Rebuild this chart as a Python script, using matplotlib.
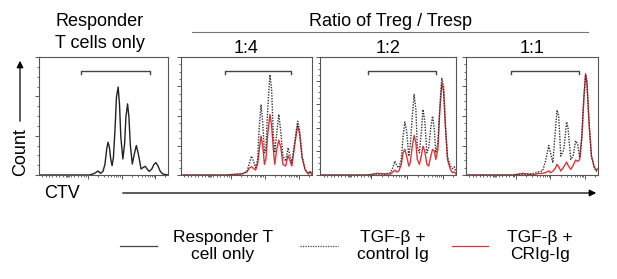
import numpy as np
import matplotlib
matplotlib.use("Agg")
import matplotlib.pyplot as plt

plt.rcParams['font.family'] = ['Liberation Sans', 'DejaVu Sans']

# CTV position (decades, 0 = 10^3) and count (% of axis)
resp_x = [-1.45, 0.05, 0.20, 0.30, 0.38, 0.45, 0.51, 0.56, 0.60, 0.64, 0.68, 0.72, 0.76, 0.81, 0.85,
          0.90, 0.94, 0.98, 1.04, 1.09, 1.13, 1.18, 1.22, 1.26, 1.32, 1.38, 1.44, 1.50, 1.58, 1.65,
          1.70, 1.76, 1.82, 1.90, 1.96, 2.02, 2.08, 2.15, 2.23, 2.38]
resp_y = [0, 0, 1.4, 3.4, 1.4, 3.1, 9.3, 22, 27.8, 23.5, 13.6, 7.9, 15, 40.5, 66,
          74.5, 60, 32, 13.6, 26, 49, 60.3, 49, 26, 9.3, 17.8, 25, 17.8, 5.1, 6.5,
          7.4, 5.1, 3.1, 5.1, 8.8, 10.5, 7.9, 3.1, 0.8, 0]

# 1:4
r14_x = [-1.45, -0.15, 0.33, 0.48, 0.54, 0.61, 0.67, 0.73, 0.79, 0.84, 0.89, 0.94, 0.99, 1.03, 1.09,
         1.15, 1.20, 1.25, 1.29, 1.35, 1.41, 1.47, 1.53, 1.61, 1.68, 1.74, 1.79, 1.87, 1.96, 2.02,
         2.09, 2.18, 2.27, 2.33, 2.38]
r14_ctrl = [0, 0, 0.6, 3.4, 9, 16, 11.8, 6.2, 13.2, 41.4, 59.7, 44, 18.9, 21.7, 58.3,
            85, 72.4, 33, 18.9, 35.8, 51.3, 35.8, 16, 11.8, 23.1, 16, 10.4, 27.3, 45.6, 37.2,
            16, 4.8, 1.4, 3.4, 0.6]
r14_crig = [0, 0, 1.1, 2.5, 5.6, 7, 5.6, 4.2, 9, 21.7, 33, 24.5, 9, 13.2, 35.8,
            51.3, 41.4, 21.7, 9, 21.7, 29.6, 23.1, 9, 7.6, 16.6, 11.8, 7.6, 24.5, 42, 34.4,
            14.6, 4.2, 0.8, 2.5, 0]

# 1:2
r12_x = [-1.45, -0.10, 0.16, 0.38, 0.54, 0.60, 0.66, 0.71, 0.77, 0.84, 0.89, 0.94, 0.99, 1.05, 1.09,
         1.15, 1.20, 1.25, 1.29, 1.35, 1.41, 1.45, 1.50, 1.56, 1.61, 1.67, 1.72, 1.77, 1.81, 1.87,
         1.92, 1.98, 2.03, 2.08, 2.14, 2.22, 2.28, 2.33, 2.38]
r12_ctrl = [0, 0, 0.8, 0.8, 2, 6.2, 11.8, 7.6, 6.2, 13.2, 33, 44.8, 37.2, 16, 24.5,
            49.9, 68.2, 55.5, 24.5, 18.9, 38.6, 55.5, 45.6, 18.9, 23.1, 40, 49.9, 38.6, 18.9, 27.3,
            55.5, 82.3, 75.2, 44.2, 16, 7.6, 5.4, 7, 2.5]
r12_crig = [0, 0, 1.4, 0.8, 0.8, 2.5, 4.2, 2.5, 3.4, 9, 18.9, 21.7, 16, 7.6, 10.4,
            24.5, 33.5, 27.3, 13.2, 9, 17.5, 24.5, 20.3, 9, 7.6, 16, 21.7, 20.3, 13.2, 21.7,
            52.7, 78, 71, 41.4, 13.2, 4.8, 2, 2.5, 0.8]

# 1:1
r11_x = [-1.45, -0.10, 0.19, 0.33, 0.54, 0.62, 0.77, 0.86, 0.95, 1.00, 1.07, 1.15, 1.19, 1.24, 1.30,
         1.39, 1.47, 1.51, 1.59, 1.66, 1.73, 1.79, 1.85, 1.91, 1.97, 2.02, 2.06, 2.12, 2.19, 2.27,
         2.33, 2.38]
r11_ctrl = [0, 0, 0.6, 0.6, 1.4, 2.5, 3.4, 12, 25, 18.9, 10.4, 40, 55, 50, 16,
            21.7, 45, 40, 13.2, 16, 29, 26, 14.6, 30, 64, 85, 78, 44.2, 16, 6.2,
            3.1, 4.8]
r11_crig = [0, 0, 1.4, 0.8, 0.3, 1.2, 1.4, 2, 3.4, 2, 3.1, 6.2, 9, 7, 3.4,
            7, 11, 8.2, 4.8, 8.2, 12.7, 11.5, 13.2, 33, 66.2, 85.9, 78, 44.2, 16, 7,
            4.2, 5.5]

panel_titles = ['', '1:4', '1:2', '1:1']
gate_x = [(-0.20, 1.85), (-0.17, 1.77), (-0.11, 1.81), (-0.15, 1.82)]
ytick_step = [33.3, 25, 20, 25]

W, H = 617, 279
fig = plt.figure(figsize=(W / 100, H / 100), dpi=100)

boxes = [(39, 168), (181, 312), (320, 456), (466, 598)]
top, bot = 57, 175
axes = []
for (x0, x1) in boxes:
    ax = fig.add_axes([x0 / W, 1 - bot / H, (x1 - x0) / W, (bot - top) / H])
    axes.append(ax)

dec_minor = [d + np.log10(k) for d in (-1, 0, 1, 2) for k in range(2, 10)]
neg_minor = [-1.35, -1.25, -1.15, -1.05, -0.95, -0.85, -0.75, -0.66, -0.63, -0.60, -0.57, -0.5,
             -0.4, -0.3, -0.2, -0.1]

for i, ax in enumerate(axes):
    ax.set_xlim(-1.45, 2.38)
    ax.set_ylim(0, 100)
    for s in ax.spines.values():
        s.set_color('#555555')
        s.set_linewidth(0.8)
    ax.set_xticks([0, 1, 2])
    ax.set_xticks([v for v in dec_minor if -0.05 < v < 2.38] + neg_minor, minor=True)
    st = ytick_step[i]
    ax.set_yticks(np.arange(0, 100.1, st))
    ax.set_yticks(np.arange(0, 100.1, st / 4), minor=True)
    ax.tick_params(which='major', length=3, width=0.7, color='#555555', labelbottom=False, labelleft=False)
    ax.tick_params(which='minor', length=1.5, width=0.6, color='#555555')
    g0, g1 = gate_x[i]
    ax.plot([g0, g0, g1, g1], [86, 88, 88, 86], color='#444444', lw=1.0)
    if panel_titles[i]:
        ax.set_title(panel_titles[i], fontsize=13, pad=3)

axes[0].plot(resp_x, resp_y, color='#222222', lw=1.0)
for ax, xs, ctrl, crig in [(axes[1], r14_x, r14_ctrl, r14_crig),
                           (axes[2], r12_x, r12_ctrl, r12_crig),
                           (axes[3], r11_x, r11_ctrl, r11_crig)]:
    ax.plot(xs, crig, color='#d7373a', lw=1.0)
    ax.plot(xs, ctrl, color='#333333', lw=1.0, ls=(0, (1, 1)))

# header texts
fig.text(100 / W, 1 - 21 / H, 'Responder', ha='center', va='center', fontsize=13)
fig.text(100 / W, 1 - 44 / H, 'T cells only', ha='center', va='center', fontsize=13)
fig.text(390 / W, 1 - 21 / H, 'Ratio of Treg / Tresp', ha='center', va='center', fontsize=13)
fig.add_artist(plt.Line2D([192 / W, 588 / W], [1 - 32 / H, 1 - 32 / H], color='#777777', lw=0.8))

# axis annotations
fig.text(21 / W, 1 - 152 / H, 'Count', rotation=90, ha='center', va='center', fontsize=13)
fig.add_artist(plt.matplotlib.patches.FancyArrowPatch((20 / W, 1 - 124 / H), (20 / W, 1 - 58 / H),
                                                      transform=fig.transFigure, arrowstyle='-|>',
                                                      mutation_scale=10, color='black', lw=0.9))
fig.text(62 / W, 1 - 194 / H, 'CTV', ha='center', va='center', fontsize=13)
fig.add_artist(plt.matplotlib.patches.FancyArrowPatch((120 / W, 1 - 193 / H), (599 / W, 1 - 193 / H),
                                                      transform=fig.transFigure, arrowstyle='-|>',
                                                      mutation_scale=10, color='black', lw=0.9))

# legend
leg_y = 1 - 246 / H
fig.add_artist(plt.Line2D([120 / W, 157 / W], [leg_y, leg_y], color='#444444', lw=0.9))
fig.add_artist(plt.Line2D([300 / W, 338 / W], [leg_y, leg_y], color='#444444', lw=0.9, ls=(0, (1, 1))))
fig.add_artist(plt.Line2D([452 / W, 488 / W], [leg_y, leg_y], color='#d7373a', lw=0.9))
for cx, txt in [(223, 'Responder T\ncell only'), (393, 'TGF-β +\ncontrol Ig'), (540, 'TGF-β +\nCRIg-Ig')]:
    fig.text(cx / W, 1 - 246 / H, txt, ha='center', va='center', fontsize=12.5, linespacing=1.2)

fig.savefig('out.png', dpi=100)
